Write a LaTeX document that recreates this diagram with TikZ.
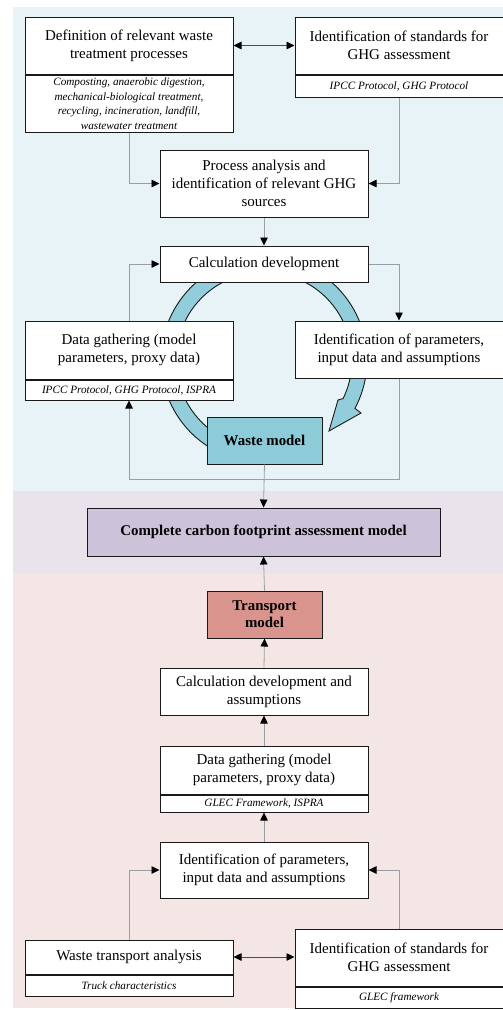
\documentclass[tikz,border=0pt]{standalone}
\usepackage{fontspec}
\setmainfont{Liberation Serif}
\usetikzlibrary{arrows.meta,calc}
\definecolor{bgblue}{RGB}{231,243,247}
\definecolor{bgpurple}{RGB}{233,228,236}
\definecolor{bgpink}{RGB}{245,230,230}
\definecolor{ringfill}{RGB}{146,205,220}
\definecolor{wastefill}{RGB}{141,203,217}
\definecolor{completefill}{RGB}{204,195,218}
\definecolor{transfill}{RGB}{218,148,142}
\definecolor{conngray}{RGB}{150,160,163}
\tikzset{
  box/.style={draw=black!90, fill=white, line width=1pt, minimum width=208pt, minimum height=#1,
    align=center, inner sep=0pt, font=\fontsize{15}{18.2}\selectfont},
  subbox/.style={draw=black!90, fill=white, line width=1pt, minimum width=208pt, minimum height=#1,
    align=center, inner sep=0pt, anchor=north, font=\fontsize{11.2}{14.6}\selectfont\itshape},
  modelbox/.style={draw=black!90, line width=1pt, minimum width=115pt, minimum height=47pt,
    align=center, inner sep=0pt, font=\fontsize{14.9}{17}\selectfont\bfseries},
  conn/.style={draw=conngray, line width=0.8pt, -{Triangle[length=8pt,width=7.5pt,color=black]}},
  dconn/.style={draw=black!70, line width=0.8pt, {Triangle[length=8pt,width=7.5pt,color=black]}-{Triangle[length=8pt,width=7.5pt,color=black]}},
  ring/.style={fill=ringfill, draw=black!90, line width=0.9pt}
}
\begin{document}
\begin{tikzpicture}[x=1pt,y=1pt]
\useasboundingbox (0,0) rectangle (503,-1010);
% background bands
\fill[bgblue] (13,-7) rectangle (503,-491);
\fill[bgpurple] (13,-491) rectangle (503,-574);
\fill[bgpink] (13,-574) rectangle (503,-1008);
% circular arrow
\coordinate (rc) at (264,-360);
\draw[ring] ($(rc)+(240:103)$) arc[start angle=240,end angle=-28,radius=103]
  -- (361,-413) -- (329,-431) -- (338,-400) -- ($(rc)+(-26:88)$)
  arc[start angle=-26,end angle=240,radius=88] -- cycle;
% upper part
\node[box=57pt] (def) at (129,-45.5) {Definition of relevant waste\\treatment processes};
\node[subbox=57pt] (defs) at (def.south) {Composting, anaerobic digestion,\\mechanical-biological treatment,\\recycling, incineration, landfill,\\wastewater treatment};
\node[box=57pt] (std) at (399,-45.5) {Identification of standards for\\GHG assessment};
\node[subbox=22pt] (stds) at (std.south) {IPCC Protocol, GHG Protocol};
\node[box=67pt] (proc) at (264,-183.5) {Process analysis and\\identification of relevant GHG\\sources};
\node[box=36pt] (calc) at (264,-264) {Calculation development};
\node[box=58pt] (data) at (129,-350) {Data gathering (model\\parameters, proxy data)};
\node[subbox=20pt] (datas) at (data.south) {IPCC Protocol, GHG Protocol, ISPRA};
\node[box=57pt] (ident) at (399,-349.5) {Identification of parameters,\\input data and assumptions};
\node[modelbox, fill=wastefill] (waste) at (264.5,-440.5) {Waste model};
% middle
\node[modelbox, fill=completefill, minimum width=353pt, minimum height=48pt] (complete) at (263.5,-532) {Complete carbon footprint assessment model};
% lower part
\node[modelbox, fill=transfill] (trans) at (264.5,-614.5) {Transport\\model};
\node[box=47pt] (calc2) at (264,-691.5) {Calculation development and\\assumptions};
\node[box=48pt] (data2) at (264,-770) {Data gathering (model\\parameters, proxy data)};
\node[subbox=17pt] (data2s) at (data2.south) {GLEC Framework, ISPRA};
\node[box=56pt] (ident2) at (264,-870) {Identification of parameters,\\input data and assumptions};
\node[box=34pt] (wta) at (129,-957) {Waste transport analysis};
\node[subbox=21pt] (wtas) at (wta.south) {Truck characteristics};
\node[box=57pt] (std2) at (399,-957.5) {Identification of standards for\\GHG assessment};
\node[subbox=21pt] (std2s) at (std2.south) {GLEC framework};
% connectors upper
\draw[dconn] (def.east) -- (def.east -| std.west);
\draw[conn] (defs.south) |- (proc.west);
\draw[conn] (stds.south) |- (proc.east);
\draw[conn] (proc.south) -- (calc.north);
\draw[conn] (data.north) |- (calc.west);
\draw[conn] (calc.east) -| (ident.north);
\coordinate (jr) at (399,-479);
\coordinate (jl) at (129,-479);
\draw[conn] (ident.south) -- (jr) -- (jl) -- (datas.south);
\draw[conn] (waste.south) -- (complete.north);
% connectors lower
\draw[conn] (trans.north) -- (complete.south);
\draw[conn] (calc2.north) -- (trans.south);
\draw[conn] (data2.north) -- (calc2.south);
\draw[conn] (ident2.north) -- (data2s.south);
\draw[conn] (wta.north) |- (ident2.west);
\draw[conn] (std2.north) |- (ident2.east);
\draw[dconn] (wta.east) -- (wta.east -| std2.west);
\end{tikzpicture}
\end{document}
